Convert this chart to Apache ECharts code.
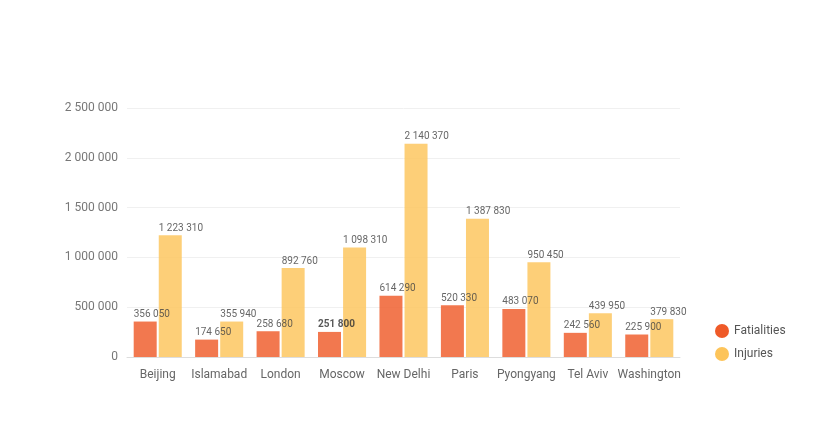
<!DOCTYPE html>
<html>
<head>
<meta charset="utf-8">
<script src="https://cdn.jsdelivr.net/npm/echarts@6/dist/echarts.min.js"></script>
<style>
  html, body { margin: 0; padding: 0; background: #fff; }
  #chart { width: 822px; height: 421px; }
</style>
</head>
<body>
<div id="chart"></div>
<script>
const cities = ["Beijing", "Islamabad", "London", "Moscow", "New Delhi", "Paris", "Pyongyang", "Tel Aviv", "Washington"];
const fatalities = [356050, 174650, 258680, 251800, 614290, 520330, 483070, 242560, 225900];
const injuries = [1223310, 355940, 892760, 1098310, 2140370, 1387830, 950450, 439950, 379830];

const fmt = (v) => String(v).replace(/\B(?=(\d{3})+(?!\d))/g, " ");

const chart = echarts.init(document.getElementById("chart"));

const barLabel = {
  show: true,
  position: [0, -12],
  fontFamily: "Roboto",
  fontSize: 10,
  color: "#444",
  formatter: (p) => fmt(p.value)
};

chart.setOption({
  animation: false,
  textStyle: { fontFamily: "Roboto" },
  grid: { left: 127, right: 142, top: 108, bottom: 64 },
  legend: {
    orient: "vertical",
    left: 710,
    top: 319,
    icon: "circle",
    itemWidth: 14,
    itemHeight: 14,
    itemGap: 9,
    textStyle: { color: "#555", fontSize: 12, fontFamily: "Roboto" },
    itemStyle: { opacity: 1 },
    data: ["Fatialities", "Injuries"]
  },
  xAxis: {
    type: "category",
    data: cities,
    axisTick: { show: false },
    axisLine: { lineStyle: { color: "#ddd" } },
    axisLabel: { color: "#666", fontSize: 12, margin: 12, interval: 0 }
  },
  yAxis: {
    type: "value",
    min: 0,
    max: 2500000,
    interval: 500000,
    axisLine: { show: false },
    axisTick: { show: false },
    splitLine: { lineStyle: { color: "#f0f0f0" } },
    axisLabel: { color: "#777", fontSize: 12, margin: 9, formatter: fmt }
  },
  series: [
    {
      name: "Fatialities",
      type: "bar",
      barWidth: 23,
      barGap: "9%",
      itemStyle: { color: "#EF5A28", opacity: 0.82 },
      label: barLabel,
      data: fatalities.map((v, i) => cities[i] === "Moscow"
        ? { value: v, label: { fontWeight: "bold", color: "#333" } }
        : v)
    },
    {
      name: "Injuries",
      type: "bar",
      barWidth: 23,
      itemStyle: { color: "#FDC45A", opacity: 0.82 },
      label: barLabel,
      data: injuries
    }
  ]
});
</script>
</body>
</html>
